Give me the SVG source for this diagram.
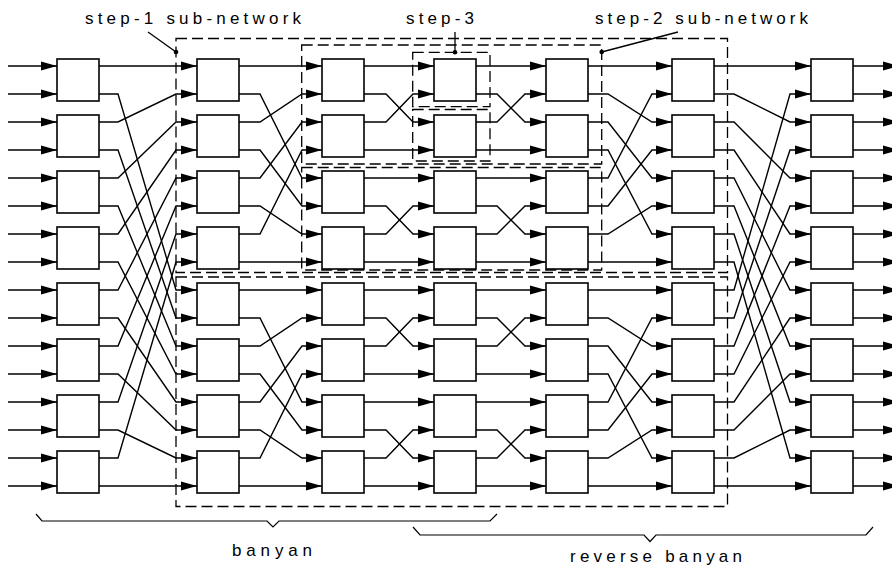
<svg xmlns="http://www.w3.org/2000/svg" width="892" height="566" viewBox="0 0 892 566">
<style>
.w path{fill:none;stroke:#000;stroke-width:1.4;marker-end:url(#ah)}
.sw{fill:#fff;stroke:#000;stroke-width:1.6}
.dash{fill:none;stroke:#000;stroke-width:1.3;stroke-dasharray:11 5}
.ld{fill:none;stroke:#000;stroke-width:1.3}
.br{fill:none;stroke:#000;stroke-width:1.2}
text{font-family:"Liberation Sans",Arial,sans-serif;font-size:17px;fill:#000}
</style>
<defs>
<marker id="ah" markerUnits="userSpaceOnUse" markerWidth="16" markerHeight="10" refX="16" refY="5" orient="auto" overflow="visible">
<path d="M0,0.5 L16,5 L0,9.5 z" fill="#000"/>
</marker>
</defs>
<rect width="892" height="566" fill="#fff"/>
<g id="connectors" class="w">
<path d="M8 66H57"/><path d="M8 94H57"/><path d="M8 122H57"/><path d="M8 150H57"/>
<path d="M8 178H57"/><path d="M8 206H57"/><path d="M8 234H57"/><path d="M8 262H57"/>
<path d="M8 290H57"/><path d="M8 318H57"/><path d="M8 346H57"/><path d="M8 374H57"/>
<path d="M8 402H57"/><path d="M8 430H57"/><path d="M8 458H57"/><path d="M8 486H57"/>
<path d="M99 66H197"/>
<path d="M99 94H118L176 290H197"/>
<path d="M99 122H118L176 94H197"/>
<path d="M99 150H118L176 318H197"/>
<path d="M99 178H118L176 122H197"/>
<path d="M99 206H118L176 346H197"/>
<path d="M99 234H118L176 150H197"/>
<path d="M99 262H118L176 374H197"/>
<path d="M99 290H118L176 178H197"/>
<path d="M99 318H118L176 402H197"/>
<path d="M99 346H118L176 206H197"/>
<path d="M99 374H118L176 430H197"/>
<path d="M99 402H118L176 234H197"/>
<path d="M99 430H118L176 458H197"/>
<path d="M99 458H118L176 262H197"/>
<path d="M99 486H197"/>
<path d="M239 66H322"/>
<path d="M239 94H260L302 178H322"/>
<path d="M239 122H260L302 94H322"/>
<path d="M239 150H260L302 206H322"/>
<path d="M239 178H260L302 122H322"/>
<path d="M239 206H260L302 234H322"/>
<path d="M239 234H260L302 150H322"/>
<path d="M239 262H322"/>
<path d="M239 290H322"/>
<path d="M239 318H260L302 402H322"/>
<path d="M239 346H260L302 318H322"/>
<path d="M239 374H260L302 430H322"/>
<path d="M239 402H260L302 346H322"/>
<path d="M239 430H260L302 458H322"/>
<path d="M239 458H260L302 374H322"/>
<path d="M239 486H322"/>
<path d="M364 66H434"/>
<path d="M364 94H386L413 122H434"/>
<path d="M364 122H386L413 94H434"/>
<path d="M364 150H434"/>
<path d="M364 178H434"/>
<path d="M364 206H386L413 234H434"/>
<path d="M364 234H386L413 206H434"/>
<path d="M364 262H434"/>
<path d="M364 290H434"/>
<path d="M364 318H386L413 346H434"/>
<path d="M364 346H386L413 318H434"/>
<path d="M364 374H434"/>
<path d="M364 402H434"/>
<path d="M364 430H386L413 458H434"/>
<path d="M364 458H386L413 430H434"/>
<path d="M364 486H434"/>
<path d="M476 66H546"/>
<path d="M476 94H497L525 122H546"/>
<path d="M476 122H497L525 94H546"/>
<path d="M476 150H546"/>
<path d="M476 178H546"/>
<path d="M476 206H497L525 234H546"/>
<path d="M476 234H497L525 206H546"/>
<path d="M476 262H546"/>
<path d="M476 290H546"/>
<path d="M476 318H497L525 346H546"/>
<path d="M476 346H497L525 318H546"/>
<path d="M476 374H546"/>
<path d="M476 402H546"/>
<path d="M476 430H497L525 458H546"/>
<path d="M476 458H497L525 430H546"/>
<path d="M476 486H546"/>
<path d="M588 66H672"/>
<path d="M588 94H608L652 122H672"/>
<path d="M588 122H608L652 178H672"/>
<path d="M588 150H608L652 234H672"/>
<path d="M588 178H608L652 94H672"/>
<path d="M588 206H608L652 150H672"/>
<path d="M588 234H608L652 206H672"/>
<path d="M588 262H672"/>
<path d="M588 290H672"/>
<path d="M588 318H608L652 346H672"/>
<path d="M588 346H608L652 402H672"/>
<path d="M588 374H608L652 458H672"/>
<path d="M588 402H608L652 318H672"/>
<path d="M588 430H608L652 374H672"/>
<path d="M588 458H608L652 430H672"/>
<path d="M588 486H672"/>
<path d="M714 66H811"/>
<path d="M714 94H734L790 122H811"/>
<path d="M714 122H734L790 178H811"/>
<path d="M714 150H734L790 234H811"/>
<path d="M714 178H734L790 290H811"/>
<path d="M714 206H734L790 346H811"/>
<path d="M714 234H734L790 402H811"/>
<path d="M714 262H734L790 458H811"/>
<path d="M714 290H734L790 94H811"/>
<path d="M714 318H734L790 150H811"/>
<path d="M714 346H734L790 206H811"/>
<path d="M714 374H734L790 262H811"/>
<path d="M714 402H734L790 318H811"/>
<path d="M714 430H734L790 374H811"/>
<path d="M714 458H734L790 430H811"/>
<path d="M714 486H811"/>
<path d="M853 66H899"/><path d="M853 94H899"/><path d="M853 122H899"/><path d="M853 150H899"/>
<path d="M853 178H899"/><path d="M853 206H899"/><path d="M853 234H899"/><path d="M853 262H899"/>
<path d="M853 290H899"/><path d="M853 318H899"/><path d="M853 346H899"/><path d="M853 374H899"/>
<path d="M853 402H899"/><path d="M853 430H899"/><path d="M853 458H899"/><path d="M853 486H899"/>
</g>
<g id="s0b0"><rect class="sw" x="57" y="59" width="42" height="42"/></g>
<g id="s0b1"><rect class="sw" x="57" y="115" width="42" height="42"/></g>
<g id="s0b2"><rect class="sw" x="57" y="171" width="42" height="42"/></g>
<g id="s0b3"><rect class="sw" x="57" y="227" width="42" height="42"/></g>
<g id="s0b4"><rect class="sw" x="57" y="283" width="42" height="42"/></g>
<g id="s0b5"><rect class="sw" x="57" y="339" width="42" height="42"/></g>
<g id="s0b6"><rect class="sw" x="57" y="395" width="42" height="42"/></g>
<g id="s0b7"><rect class="sw" x="57" y="451" width="42" height="42"/></g>
<g id="s1b0"><rect class="sw" x="197" y="59" width="42" height="42"/></g>
<g id="s1b1"><rect class="sw" x="197" y="115" width="42" height="42"/></g>
<g id="s1b2"><rect class="sw" x="197" y="171" width="42" height="42"/></g>
<g id="s1b3"><rect class="sw" x="197" y="227" width="42" height="42"/></g>
<g id="s1b4"><rect class="sw" x="197" y="283" width="42" height="42"/></g>
<g id="s1b5"><rect class="sw" x="197" y="339" width="42" height="42"/></g>
<g id="s1b6"><rect class="sw" x="197" y="395" width="42" height="42"/></g>
<g id="s1b7"><rect class="sw" x="197" y="451" width="42" height="42"/></g>
<g id="s2b0"><rect class="sw" x="322" y="59" width="42" height="42"/></g>
<g id="s2b1"><rect class="sw" x="322" y="115" width="42" height="42"/></g>
<g id="s2b2"><rect class="sw" x="322" y="171" width="42" height="42"/></g>
<g id="s2b3"><rect class="sw" x="322" y="227" width="42" height="42"/></g>
<g id="s2b4"><rect class="sw" x="322" y="283" width="42" height="42"/></g>
<g id="s2b5"><rect class="sw" x="322" y="339" width="42" height="42"/></g>
<g id="s2b6"><rect class="sw" x="322" y="395" width="42" height="42"/></g>
<g id="s2b7"><rect class="sw" x="322" y="451" width="42" height="42"/></g>
<g id="s3b0"><rect class="sw" x="434" y="59" width="42" height="42"/></g>
<g id="s3b1"><rect class="sw" x="434" y="115" width="42" height="42"/></g>
<g id="s3b2"><rect class="sw" x="434" y="171" width="42" height="42"/></g>
<g id="s3b3"><rect class="sw" x="434" y="227" width="42" height="42"/></g>
<g id="s3b4"><rect class="sw" x="434" y="283" width="42" height="42"/></g>
<g id="s3b5"><rect class="sw" x="434" y="339" width="42" height="42"/></g>
<g id="s3b6"><rect class="sw" x="434" y="395" width="42" height="42"/></g>
<g id="s3b7"><rect class="sw" x="434" y="451" width="42" height="42"/></g>
<g id="s4b0"><rect class="sw" x="546" y="59" width="42" height="42"/></g>
<g id="s4b1"><rect class="sw" x="546" y="115" width="42" height="42"/></g>
<g id="s4b2"><rect class="sw" x="546" y="171" width="42" height="42"/></g>
<g id="s4b3"><rect class="sw" x="546" y="227" width="42" height="42"/></g>
<g id="s4b4"><rect class="sw" x="546" y="283" width="42" height="42"/></g>
<g id="s4b5"><rect class="sw" x="546" y="339" width="42" height="42"/></g>
<g id="s4b6"><rect class="sw" x="546" y="395" width="42" height="42"/></g>
<g id="s4b7"><rect class="sw" x="546" y="451" width="42" height="42"/></g>
<g id="s5b0"><rect class="sw" x="672" y="59" width="42" height="42"/></g>
<g id="s5b1"><rect class="sw" x="672" y="115" width="42" height="42"/></g>
<g id="s5b2"><rect class="sw" x="672" y="171" width="42" height="42"/></g>
<g id="s5b3"><rect class="sw" x="672" y="227" width="42" height="42"/></g>
<g id="s5b4"><rect class="sw" x="672" y="283" width="42" height="42"/></g>
<g id="s5b5"><rect class="sw" x="672" y="339" width="42" height="42"/></g>
<g id="s5b6"><rect class="sw" x="672" y="395" width="42" height="42"/></g>
<g id="s5b7"><rect class="sw" x="672" y="451" width="42" height="42"/></g>
<g id="s6b0"><rect class="sw" x="811" y="59" width="42" height="42"/></g>
<g id="s6b1"><rect class="sw" x="811" y="115" width="42" height="42"/></g>
<g id="s6b2"><rect class="sw" x="811" y="171" width="42" height="42"/></g>
<g id="s6b3"><rect class="sw" x="811" y="227" width="42" height="42"/></g>
<g id="s6b4"><rect class="sw" x="811" y="283" width="42" height="42"/></g>
<g id="s6b5"><rect class="sw" x="811" y="339" width="42" height="42"/></g>
<g id="s6b6"><rect class="sw" x="811" y="395" width="42" height="42"/></g>
<g id="s6b7"><rect class="sw" x="811" y="451" width="42" height="42"/></g>
<g id="step1">
<rect class="dash" x="176" y="38.5" width="551.5" height="234"/>
<rect class="dash" x="176" y="277" width="551.5" height="229.5"/>
<path class="ld" d="M148 32L176 52"/>
<circle cx="176" cy="52" r="2.3"/>
<text x="85" y="24" textLength="216" lengthAdjust="spacing">step-1 sub-network</text>
</g>
<g id="step2">
<rect class="dash" x="301.7" y="45" width="300" height="119"/>
<rect class="dash" x="301.7" y="167.5" width="300" height="102.5"/>
<path class="ld" d="M678 32L601.7 52"/>
<circle cx="601.7" cy="52" r="2.3"/>
<text x="595" y="24" textLength="213" lengthAdjust="spacing">step-2 sub-network</text>
</g>
<g id="step3">
<rect class="dash" x="412.7" y="52.3" width="77.3" height="54.4"/>
<rect class="dash" x="412.7" y="109.5" width="77.3" height="51.5"/>
<path class="ld" d="M455 32V52"/>
<circle cx="455" cy="52.3" r="2.3"/>
<text x="406" y="24" textLength="68" lengthAdjust="spacing">step-3</text>
</g>
<g id="banyan">
<path class="br" d="M36 514L42 521H267L273 527L279 521H490L497 514"/>
<text x="232" y="556" textLength="80" lengthAdjust="spacing">banyan</text>
</g>
<g id="reverse-banyan">
<path class="br" d="M413 527L420 535H644L650 541.5L656 535H866L873 527"/>
<text x="570" y="562" textLength="172" lengthAdjust="spacing">reverse banyan</text>
</g>
</svg>
